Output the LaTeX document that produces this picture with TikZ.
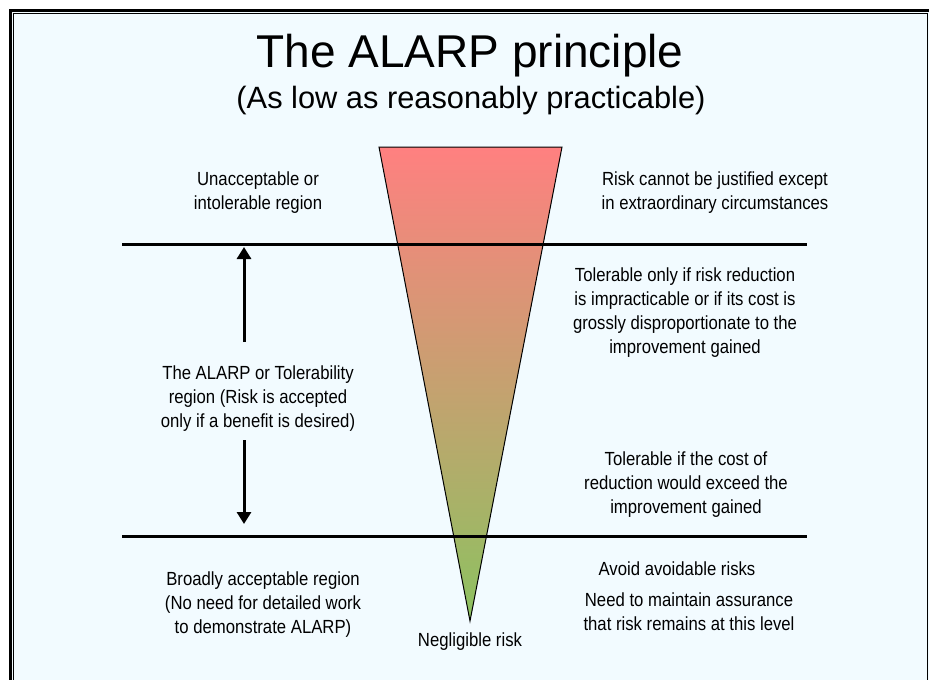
\documentclass[tikz,border=0pt]{standalone}
\usepackage{fontspec}
\setmainfont{Liberation Sans}
\newfontfamily\narrowfont[FakeStretch=0.88]{Liberation Sans}
\usetikzlibrary{arrows.meta}

\definecolor{slidebg}{RGB}{242,251,255}
\definecolor{riskred}{RGB}{255,128,128}
\definecolor{riskgreen}{RGB}{140,194,96}

\begin{document}
\begin{tikzpicture}[x=1pt,y=-1pt]
% ---------------------------------------------------------
% Dimensions (pixel-like units, y grows downwards)
% ---------------------------------------------------------
\def\LineL{122}     % left end of region lines
\def\LineR{807}     % right end of region lines
\def\UpperY{244}    % upper region line
\def\LowerY{536}    % lower region line
\def\ArrowX{244}    % x of the tolerability arrow
\def\TriL{379}      % triangle top left
\def\TriR{562}      % triangle top right
\def\TriTop{147}    % triangle top edge
\def\TipX{470}      % triangle tip
\def\TipY{621}

% ---------------------------------------------------------
% Styles
% ---------------------------------------------------------
\tikzset{
  slide text/.style={font=\narrowfont\fontsize{19}{24}\selectfont, align=center, inner sep=0pt},
  region line/.style={line width=3pt},
  range arrow/.style={line width=3pt, -{Triangle[width=14pt,length=12pt]}},
}

\useasboundingbox (0,0) rectangle (929,680);

% =========================================================
% 1) SLIDE BACKGROUND AND DOUBLE FRAME
% =========================================================
\begin{scope}
  \clip (0,0) rectangle (929,680);
  \fill[slidebg] (12,12) rectangle (935,686);
  \draw[line width=3pt] (10.5,10.5) rectangle (935,686);
  \draw[line width=1.3pt] (13.8,13.8) rectangle (927.6,681);
\end{scope}

% =========================================================
% 2) TITLE
% =========================================================
\node[font=\fontsize{46}{50}\selectfont, anchor=base] (title) at (470,67) {The ALARP principle};
\node[font=\fontsize{30.8}{34}\selectfont, anchor=base] (subtitle) at (471,108) {(As low as reasonably practicable)};

% =========================================================
% 3) RISK TRIANGLE (red at top, green at the tip)
% =========================================================
\shade[top color=riskred, bottom color=riskgreen, draw=black, line width=1pt]
  (\TriL,\TriTop) -- (\TriR,\TriTop) -- (\TipX,\TipY) -- cycle;

% =========================================================
% 4) REGION LINES
% =========================================================
\coordinate (upperL) at (\LineL,\UpperY);
\coordinate (upperR) at (\LineR,\UpperY);
\coordinate (lowerL) at (\LineL,\LowerY);
\coordinate (lowerR) at (\LineR,\LowerY);
\draw[region line] (upperL) -- (upperR);
\draw[region line] (lowerL) -- (lowerR);

% =========================================================
% 5) LEFT HAND LABELS + ARROW
% =========================================================
\node[slide text] (unacc) at (258,193) {Unacceptable or\\intolerable region};
\node[slide text] (alarp) at (258,399) {The ALARP or Tolerability\\region (Risk is accepted\\only if a benefit is desired)};
\node[slide text] (broad) at (263,605) {Broadly acceptable region\\(No need for detailed work\\to demonstrate ALARP)};

\coordinate (upbase) at (\ArrowX,342);
\coordinate (uptip)  at (\ArrowX,247);
\coordinate (downbase) at (\ArrowX,440);
\coordinate (downtip)  at (\ArrowX,524);
\draw[range arrow] (upbase) -- (uptip);
\draw[range arrow] (downbase) -- (downtip);

% =========================================================
% 6) RIGHT HAND LABELS
% =========================================================
\node[slide text] (justify) at (715,193) {Risk cannot be justified except\\in extraordinary circumstances};
\node[slide text] (tolonly) at (685,313) {Tolerable only if risk reduction\\is impracticable or if its cost is\\grossly disproportionate to the\\improvement gained};
\node[slide text] (tolcost) at (686,485) {Tolerable if the cost of\\reduction would exceed the\\improvement gained};
\node[slide text] (avoid) at (677,569) {Avoid avoidable risks};
\node[slide text] (assure) at (689,612) {Need to maintain assurance\\that risk remains at this level};
\node[slide text] (neglig) at (470,642) {Negligible risk};

\end{tikzpicture}
\end{document}
